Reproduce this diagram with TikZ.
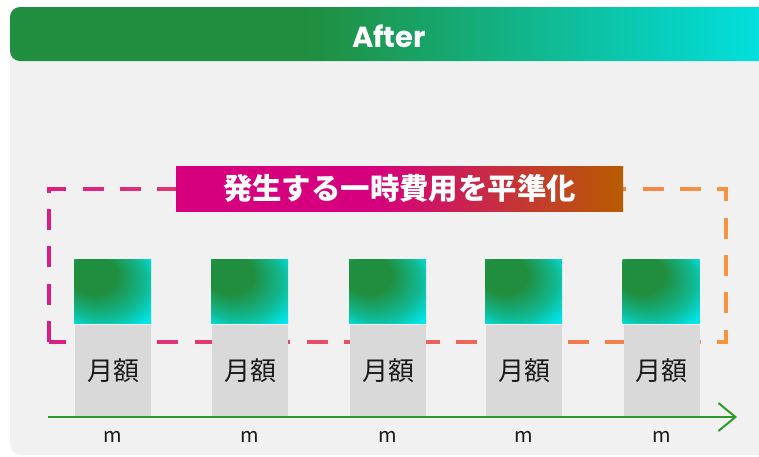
\documentclass[tikz,border=0pt]{standalone}
\usepackage{fontspec}
\newfontfamily\jp{Noto Sans CJK JP}
\newfontfamily\pop{Poppins}
\usetikzlibrary{arrows.meta}
\definecolor{hdrgreen}{RGB}{32,142,62}
\definecolor{hdrcyan}{RGB}{0,229,232}
\definecolor{panelbg}{RGB}{241,241,241}
\definecolor{cellgray}{RGB}{217,217,217}
\definecolor{lblmag}{RGB}{214,0,127}
\definecolor{lblbrown}{RGB}{184,92,0}
\definecolor{dashL}{RGB}{219,30,131}
\definecolor{dashR}{RGB}{248,149,63}
\definecolor{axisgreen}{RGB}{44,155,44}
\colorlet{sqmid}{hdrgreen!50!hdrcyan}
\pgfdeclarehorizontalshading{hdrshade}{100bp}{color(0bp)=(hdrgreen); color(44bp)=(hdrgreen); color(75bp)=(hdrcyan); color(100bp)=(hdrcyan)}
\pgfdeclarehorizontalshading{lblshade}{100bp}{color(0bp)=(lblmag); color(47bp)=(lblmag); color(75bp)=(lblbrown); color(100bp)=(lblbrown)}
\pgfdeclareradialshading{sqshade}{\pgfpoint{-18bp}{18bp}}{color(0bp)=(hdrgreen); color(15bp)=(hdrgreen); color(29bp)=(sqmid); color(38bp)=(hdrcyan); color(50bp)=(hdrcyan)}
\tikzset{
  sqbox/.style={shading=sqshade, minimum width=77pt, minimum height=64pt, inner sep=0pt},
  cellbox/.style={fill=cellgray, minimum width=76pt, minimum height=91pt, inner sep=0pt, font=\jp\fontsize{26}{30}\selectfont, text=black!90},
  mlabel/.style={font=\jp\fontsize{20}{24}\selectfont, text=black!90, inner sep=0pt},
  lblbox/.style={shading=lblshade, minimum width=447pt, minimum height=45pt, inner sep=0pt, text=white, font=\jp\bfseries\fontsize{29.4}{33}\selectfont},
  dashline/.style={line width=4pt, dash pattern=on 21pt off 16.33pt, dash phase=0pt, line cap=butt, miter limit=10},
  axisline/.style={draw=axisgreen, line width=2pt, -{Straight Barb[length=17pt, width=28pt, line width=2pt]}}
}
\begin{document}
\begin{tikzpicture}[x=1pt, y=-1pt]
\useasboundingbox (0,0) rectangle (759,456);
\clip (0,0) rectangle (759,456);
% panel
\fill[panelbg, rounded corners=11pt] (10,7) rectangle (790,455);
\shade[shading=hdrshade, rounded corners=10pt] (10,61) -- (10,7) -- (790,7) -- (790,61) -- cycle;
\node[text=white, font=\pop\bfseries\fontsize{29}{32}\selectfont, inner sep=0pt] (title) at (389,36) {After};
% dashed frame with horizontal gradient
\coordinate (fbl) at (49,342);
\coordinate (ftl) at (49,189);
\coordinate (ftr) at (726,189);
\coordinate (fbr) at (726,342);
\foreach \i in {0,...,49}{
  \pgfmathsetmacro\xa{44+\i*14}
  \pgfmathsetmacro\xb{44+(\i+1)*14+0.4}
  \pgfmathsetmacro\pc{max(0,min(100,(\xa+7-49)/677*100))}
  \begin{scope}
    \clip (\xa,180) rectangle (\xb,350);
    \draw[dashline, draw=dashR!\pc!dashL] (fbl) -- (ftl) -- (ftr) -- (fbr) -- cycle;
  \end{scope}
}
% label
\node[lblbox] (lbl) at (399.5,188.5) {発生する一時費用を平準化};
% bars
\foreach \n/\cx in {1/112.5, 2/249.5, 3/387.5, 4/523.5, 5/661}{
  \node[sqbox] (sq\n) at (\cx,291) {};
  \node[cellbox] (cell\n) at (\cx+0.5,370.5) {月額};
  \node[mlabel] (m\n) at (\cx+0.5,437) {m};
}
% axis
\coordinate (ax0) at (48,417);
\coordinate (ax1) at (737,417);
\draw[axisline] (ax0) -- (ax1);
\end{tikzpicture}
\end{document}
